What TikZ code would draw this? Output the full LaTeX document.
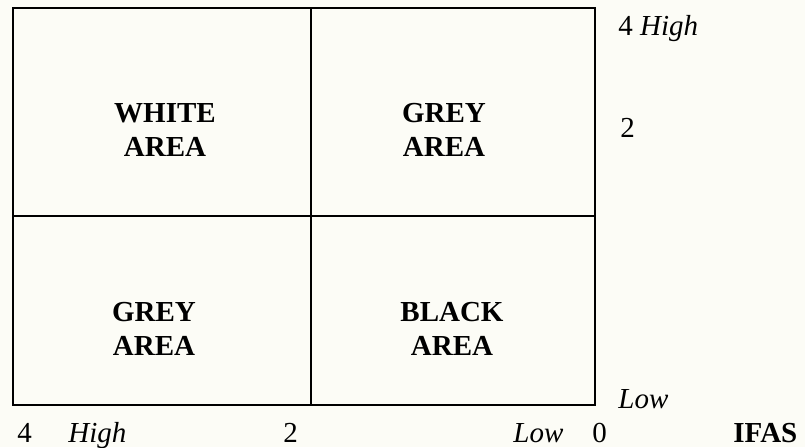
\documentclass[tikz,border=0pt]{standalone}
\usepackage{fontspec}
\setmainfont{Liberation Serif}
\usetikzlibrary{positioning}
\definecolor{paper}{RGB}{252,252,246}

\begin{document}
\begin{tikzpicture}[x=0.5pt,y=-0.5pt,font=\fontsize{14.5}{17}\selectfont,
  area/.style={font=\fontsize{14.5}{17}\selectfont\bfseries,align=center,inner sep=0pt},
  lbl/.style={anchor=base west,inner sep=0pt}]
\fill[paper] (0,0) rectangle (805,447);
\useasboundingbox (0,0) rectangle (805,447);
\draw[line width=1pt] (13,8) rectangle (595,405);
\draw[line width=1pt] (311,8) -- (311,405) (13,216) -- (595,216);
\node[area] (white) at (165,130) {WHITE\\AREA};
\node[area] (greyup) at (444,130) {GREY\\AREA};
\node[area] (greylow) at (154,329) {GREY\\AREA};
\node[area] (black) at (452,329) {BLACK\\AREA};
\node[lbl] (yhigh) at (618,35) {4 \textit{High}};
\node[lbl] (ymid) at (620,137) {2};
\node[lbl] (ylow) at (618,408) {\textit{Low}};
\foreach \n/\x/\l in {xfour/17/4,xhigh/68/\textit{High},xmid/283/2,xlow/513/\textit{Low},xzero/592/0,ifas/733/\textbf{IFAS}}
  {\node[lbl] (\n) at (\x,442) {\l};}
\end{tikzpicture}
\end{document}
